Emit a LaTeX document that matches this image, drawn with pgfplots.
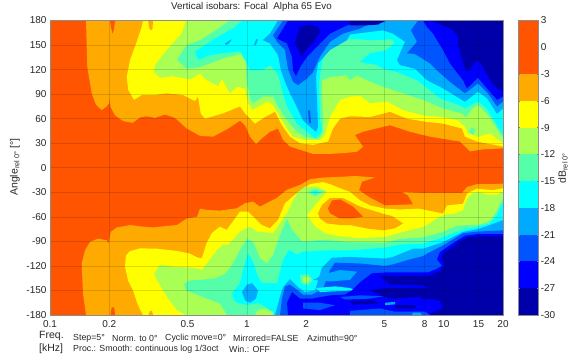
\documentclass[border=0pt]{standalone}
\usepackage{fontspec}
\usepackage{pgfplots}
\pgfplotsset{compat=1.18}
\setmainfont{Liberation Sans}
\definecolor{cR}{HTML}{FF5500}
\definecolor{cO}{HTML}{FFAA00}
\definecolor{cY}{HTML}{FFFF00}
\definecolor{cL}{HTML}{AAFF55}
\definecolor{cM}{HTML}{55FFAA}
\definecolor{cC}{HTML}{00FFFF}
\definecolor{cS}{HTML}{00AAFF}
\definecolor{cA}{HTML}{0055FF}
\definecolor{cB}{HTML}{0000FF}
\definecolor{cN}{HTML}{0000AA}
\definecolor{txt}{HTML}{262626}
\pgfplotsset{band/.style={fill=#1,draw=none,mark=none,forget plot}}
\begin{document}
\begin{tikzpicture}[x=1pt,y=1pt]
\path[use as bounding box] (0,0) rectangle (580,357);
% x coordinate: log-frequency scale, 196.9 units per decade, 0.1 kHz at 50, 20 kHz at 503
\begin{axis}[at={(50pt,42pt)},anchor=south west,scale only axis,width=453pt,height=294.5pt,
 xmin=50,xmax=503,ymin=-180,ymax=180,axis on top,
 xtick={50,109.3,187.6,246.9,306.2,384.5,424.7,443.8,478.5,503},
 xticklabels={0.1,0.2,0.5,1,2,5,8,10,15,20},
 ytick={-180,-150,-120,-90,-60,-30,0,30,60,90,120,150,180},
 yticklabels={-180,-150,-120,-90,-60,-30,0,30,60,90,120,150,180},
 ticklabel style={font=\fontsize{10}{11}\selectfont,text=txt},
 xticklabel style={yshift=-2pt},
 major tick length=0pt,grid=major,
 grid style={black,opacity=.14,line width=.6pt},
 axis line style={draw=black!45,line width=.5pt}]
% base level
\addplot[band=cR] coordinates {(50,-180)(503,-180)(503,180)(50,180)};
% -3 dB
\addplot[band=cO] coordinates {(86,180)(87.3,123)(91.7,91)(96,77)(101.7,70.5)(106.7,75)(109.3,79)(110,89)(110.3,75)(115,64)(123.3,57)(132.7,55)(140,61.5)(146.7,63)(155,61)(165,65)(175,61)(186.7,48)(200,39)(213,38)(227,47)(240,57.5)(245,52)(250,38)(256,29)(262,36)(270,44)(278,48)(283,34)(290,26)(300,22)(313,17)(330,17)(345,18)(357,19.6)(363,25.7)(355,40)(363,44)(383,50)(390,52)(410,44)(430,38)(460,32)(470,20)(483,22.5)(503,23.7)(503,180)};
\addplot[band=cO] coordinates {(86,-180)(83,-154)(81.7,-117)(85,-101)(90,-90.7)(98,-86.7)(106.7,-88.7)(108.7,-92.8)(110.7,-78.5)(116.7,-73)(130,-70)(140,-71.6)(153,-73)(163,-71.6)(177,-70)(186.7,-62)(197,-60)(200,-50)(206.7,-51.6)(220,-52.4)(236.7,-49.6)(245,-43.4)(253,-41.4)(260,-47.5)(276.7,-37)(286.7,-27)(300,-21)(310,-14)(323,-12)(343,-11)(355,-10)(375,-12)(362,-17)(359,-27.6)(370,-36.5)(385,-46)(413,-44.7)(408,-33.7)(402,-29.6)(423,-30.8)(443,-30.8)(462,-30.8)(467,-23.5)(477,-20)(493,-20)(503,-19.4)(503,-180)};
\addplot[band=cR] coordinates {(110,180)(111,172)(112.5,164)(114,170)(115,180)};
\addplot[band=cR] coordinates {(110.5,-180)(111.5,-172)(113,-170)(114.5,-173)(115,-180)};
% -6 dB
\addplot[band=cY] coordinates {(143,180)(141.7,172)(135,148)(130,131.5)(126.7,111)(128.3,95)(134,83)(141.7,89)(155,89)(166.7,91)(183,89)(195,81.5)(198,87)(200.7,66.5)(205,60)(223,66.5)(240,75)(245,66.5)(255,54)(265,62)(275,68.5)(282,52)(290,38)(300,30)(313,28)(328,32)(333,48)(340,60)(350,63)(370,62)(390,68.5)(407,60)(427,56)(443,54)(462,48)(465,38)(477,32)(503,26)(503,180)};
\addplot[band=cY] coordinates {(143,-180)(138,-168)(133,-150)(128,-137.6)(125,-121)(126,-107)(130,-102)(140,-98.5)(157,-99)(177,-101.7)(190,-105)(197,-109.5)(201.7,-110.7)(206.7,-92)(211.7,-80)(220,-72)(226.7,-76)(240,-53.6)(248,-53.6)(261.7,-70)(270,-74)(278,-63.8)(285,-43.4)(296.7,-31)(310,-20)(323,-17.5)(330,-20)(340,-25)(350,-29.6)(360,-39.8)(370,-46)(385,-50)(400,-51)(418,-50)(423,-51)(443,-56)(447,-46)(463,-44)(467,-31.6)(477,-25.5)(493,-27.5)(503,-25)(503,-180)};
\addplot[band=cO] coordinates {(148,180)(149.5,170)(151,168)(152.5,170)(153,180)};
\addplot[band=cO] coordinates {(148.5,-180)(150,-175)(152,-175)(153,-180)};
\addplot[band=cO] coordinates {(318,-55.7)(322,-45.5)(330,-37)(343,-37)(360,-47.5)(385,-57)(392,-59)(403,-68)(395,-74)(383,-76.5)(368,-74.4)(350,-70)(340,-70)(327,-68)(320,-62)};
\addplot[band=cR] coordinates {(328,-49.6)(332,-40)(340,-38.6)(353,-47.5)(360,-56)(363,-60)(350,-62)(340,-62)(330,-55.7)};
% -9 dB
\addplot[band=cL] coordinates {(186,180)(181.7,164)(166.7,144)(155,125.5)(154,117)(160,110)(173,112)(190,108)(200,115)(206.7,107)(213,103)(218,100)(222,109)(227,97)(230,91)(236.7,99)(245,97)(248,79)(253,70.5)(258,75)(268,81)(273,76.6)(280,62)(287,48)(293,38)(305,34)(320,34)(325,40)(330,62)(340,83)(350,87)(360,88)(370,79)(387,81)(403,70.5)(423,64)(443,62)(458,58)(465,50)(468,42)(478,38)(490,42)(503,30)(503,180)};
\addplot[band=cL] coordinates {(186,-180)(177,-174)(167,-158)(157,-137.6)(154,-129.4)(160,-118.7)(173,-121)(190,-122)(197,-123)(202,-125)(208,-115)(217,-100.5)(223,-94)(228,-94)(233,-88)(240,-78)(250,-72)(257,-78)(273,-80)(282,-64)(288,-53.6)(293,-39.4)(298,-30)(305,-23)(317,-23)(327,-29)(317,-43)(307,-57.7)(315,-72)(325,-80)(340,-84)(360,-86)(385,-84.6)(403,-78.5)(425,-71.6)(433,-65)(443,-58)(455,-56)(463,-52)(467,-38)(473,-31)(480,-30)(487,-33)(497,-33)(503,-29)(503,-180)};
% -12 dB
\addplot[band=cM] coordinates {(230,180)(213,166)(200,156)(186.7,150)(177,132)(186.7,121)(200,123)(210,127.5)(223,133.6)(236.7,137.7)(245,142)(246.7,105)(250.7,83)(253,79)(263,87)(273,87)(278,75)(287,58)(297,44)(305,38)(318,34.7)(323,44)(323,62)(322,95)(322,107)(330,111)(347,113)(350,107)(357,113)(363,109)(383,99)(403,91)(423,83)(443,72.5)(462,66.5)(466,62)(472,72)(478,77)(487,66)(497,48)(503,37)(503,180)};
\addplot[band=cM] coordinates {(227,-180)(220,-166)(207,-160)(195,-154)(186,-150)(184,-142)(190,-137.6)(200,-137)(215,-135)(225,-130)(232,-119)(240,-100.5)(247,-87)(253,-90)(260,-110.7)(267,-117)(273,-106.6)(280,-82)(287,-62)(292,-76)(302,-90)(323,-88)(350,-91)(385,-91.5)(400,-87)(423,-85)(443,-78.5)(457,-71)(470,-70)(478,-70)(490,-65)(497,-52)(503,-36)(503,-180)};
\addplot[band=cM] coordinates {(469,44)(472,50)(475,46)(473,40)};
\addplot[band=cM] coordinates {(307,-30)(315,-25.5)(325,-29)(315,-35)};
\addplot[band=cC] coordinates {(311,-30)(315,-28)(320,-30)(315,-32)};
% -15 dB
\addplot[band=cC] coordinates {(242,180)(235,172)(225,165)(215,158)(205,150)(195,142)(198,132)(210,137.7)(223,140)(240,142)(247,127.5)(250,119)(262,119)(270,125.5)(278,115)(282,95)(287,75)(297,54)(307,44)(315,36)(322,44)(320,62)(319,103)(322,130)(327,144)(340,154)(350,158)(370,156)(393,157)(394,152)(387,144)(370,140)(360,129.5)(377,125.5)(383,121)(397,117)(417,107)(440,85)(460,76)(465,73)(478,81)(487,72)(497,52)(503,40)(503,180)};
\addplot[band=cC] coordinates {(273,-180)(268,-172)(258,-165)(247,-168)(235,-163.7)(232,-153.5)(240,-141)(243,-125)(248,-104.6)(253,-115)(258,-133)(262,-141)(277,-141)(283,-113)(289,-100.5)(297,-106)(303,-102.5)(330,-101)(350,-101)(385,-97.6)(400,-94)(423,-93)(443,-85)(463,-76)(478,-72)(490,-68)(497,-58)(503,-42)(503,-180)};
\addplot[band=cL] coordinates {(255,-180)(258,-174)(265,-172)(273,-176)(273,-180)};
\addplot[band=cM] coordinates {(300,-131)(308,-130)(313,-137)(308,-144)(301,-141)};
\addplot[band=cL] coordinates {(303,-134)(308,-133)(310,-137)(307,-141)(303,-139)};
% -18 dB
\addplot[band=cS] coordinates {(278,180)(270,164)(262.7,156)(270,152)(278,137.7)(281,119)(285,105)(290,91)(295,79)(303,58)(312,48)(316,44)(318,50)(317,83)(316,111)(318,127.5)(330,144)(347,156)(350,163)(383,168)(393,164)(405,154)(397,131.5)(400,125.5)(415,121)(427,107)(443,97)(465,80.7)(478,93)(487,85)(497,66)(503,72.5)(503,180)};
\addplot[band=cS] coordinates {(275,-180)(280,-157.5)(283,-146)(290,-136)(298,-146)(305,-152)(315,-150)(322,-122)(332,-110)(350,-109)(385,-111)(393,-109)(413,-99)(423,-99)(443,-91)(463,-78.5)(478,-75)(490,-70)(503,-64)(503,-180)};
\addplot[band=cS] coordinates {(225,152)(230,156)(232,157)(229,152)(226,150)};
\addplot[band=cS] coordinates {(254,150)(256,157)(258,157)(256,150)};
\addplot[band=cS] coordinates {(242,-152)(247,-143)(252,-141)(258,-150)(256,-160)(250,-165)(245,-162)};
% -21 dB
\addplot[band=cA] coordinates {(283,180)(273,162)(277,154)(285,144)(288,121)(293,105)(298,101)(307,109)(313,117)(320,136)(330,154)(343,164)(360,170)(370,176)(383,178)(388,180)};
\addplot[band=cA] coordinates {(418,180)(411,168)(417,154)(407,140)(415,139)(430,127.5)(437,119)(450,105)(465,91)(478,103)(488,91)(497,75)(503,81)(503,180)};
\addplot[band=cA] coordinates {(308,70)(310,70)(311,55)(309,55)};
\addplot[band=cA] coordinates {(280,-180)(282,-159.6)(285,-145)(290,-143)(297,-149)(303,-155)(312,-155)(323,-148)(330,-125)(335,-116)(360,-117)(385,-120)(393,-118)(410,-112)(423,-108)(430,-103)(443,-95)(463,-80)(478,-78)(503,-76.5)(503,-180)};
\addplot[band=cS] coordinates {(313,-137)(325,-130)(340,-125)(357,-127)(350,-137)(330,-139)};
\addplot[band=cC] coordinates {(316,-147)(335,-145)(350,-147)(355,-150)(335,-151)(320,-152)};
% -24 dB
\addplot[band=cB] coordinates {(288,180)(277,158)(287,152)(292,135.6)(293,119)(296,112)(300,123)(307,135.6)(317,148)(330,164)(347,174)(360,178)(370,175.5)(383,178)(385,180)};
\addplot[band=cB] coordinates {(423,180)(427,172)(433,164)(443,144)(450,127.5)(463,107)(467,97)(478,110)(487,97)(497,83)(503,87)(503,180)};
\addplot[band=cB] coordinates {(288,-180)(287,-165)(292,-152)(300,-160)(312,-160)(330,-156)(345,-155)(352,-150)(360,-140)(372,-129)(385,-128)(410,-128)(428,-128)(436,-124)(442,-120)(437,-112)(440,-103)(452,-93)(465,-83)(478,-81)(503,-81)(503,-180)};
% -27 dB
\addplot[band=cN] coordinates {(300,172)(295,152)(302,135.6)(307,146)(315,156)(320,166)(318,172)(310,175)};
\addplot[band=cN] coordinates {(350,174)(365,174)(378,175)(385,180)(350,180)};
\addplot[band=cN] coordinates {(430,180)(443,174)(453,168)(458,160)(458,152)(463,127.5)(467,117)(477,131.5)(483,123.4)(490,107)(497,97)(503,93)(503,180)};
\addplot[band=cN] coordinates {(503,-180)(503,-84)(478,-84)(467,-85)(460,-90)(453,-97)(443,-105)(442,-112)(445,-119)(440,-126)(430,-132)(410,-132)(380,-132)(390,-143)(423,-143.7)(428,-147)(385,-147)(370,-150)(385,-158)(405,-163)(430,-160)(440,-163)(443,-172)(430,-178)(430,-180)};
% streaks at the bottom right
\addplot[band=cB] coordinates {(383,-161)(420,-158)(425,-163)(400,-166)(390,-166)};
\addplot[band=cN] coordinates {(350,-163)(375,-162)(378,-166)(352,-167)};
\addplot[band=cN] coordinates {(395,-168)(415,-168)(416,-172)(396,-172)};
\addplot[band=cA] coordinates {(340,-158)(360,-156)(383,-157)(370,-160)(345,-161)};
\addplot[band=cA] coordinates {(303,-165)(320,-165)(335,-168)(320,-174)(303,-172)};
\addplot[band=cA] coordinates {(350,-175)(380,-172)(395,-176)(410,-176)(425,-176)(430,-180)(350,-180)};
\addplot[band=cS] coordinates {(385,-165)(395,-164)(395,-167)(385,-168)};
\addplot[band=cS] coordinates {(413,-177)(420,-177)(422,-180)(412,-180)};
\end{axis}
% colour bar
\begin{axis}[at={(518pt,42pt)},anchor=south west,scale only axis,width=20.3pt,height=294.5pt,
 xmin=0,xmax=1,ymin=-30,ymax=3,axis on top,xtick=\empty,
 ytick={3,0,-3,-6,-9,-12,-15,-18,-21,-24,-27,-30},
 yticklabels={3,0,-3,-6,-9,-12,-15,-18,-21,-24,-27,-30},
 yticklabel pos=right,
 ticklabel style={font=\fontsize{10}{11}\selectfont,text=txt},
 yticklabel style={xshift=-1pt},
 tick align=inside,major tick length=1.5pt,tick style={black!50},
 axis line style={draw=black!45,line width=.5pt}]
\addplot[band=cR] coordinates {(0,-3)(1,-3)(1,3)(0,3)};
\addplot[band=cO] coordinates {(0,-6)(1,-6)(1,-3)(0,-3)};
\addplot[band=cY] coordinates {(0,-9)(1,-9)(1,-6)(0,-6)};
\addplot[band=cL] coordinates {(0,-12)(1,-12)(1,-9)(0,-9)};
\addplot[band=cM] coordinates {(0,-15)(1,-15)(1,-12)(0,-12)};
\addplot[band=cC] coordinates {(0,-18)(1,-18)(1,-15)(0,-15)};
\addplot[band=cS] coordinates {(0,-21)(1,-21)(1,-18)(0,-18)};
\addplot[band=cA] coordinates {(0,-24)(1,-24)(1,-21)(0,-21)};
\addplot[band=cB] coordinates {(0,-27)(1,-27)(1,-24)(0,-24)};
\addplot[band=cN] coordinates {(0,-30)(1,-30)(1,-27)(0,-27)};
\end{axis}
\begin{scope}[every node/.style={text=txt,inner sep=0pt,font=\fontsize{8.8}{9}\selectfont}]
\node[font=\fontsize{9.8}{10}\selectfont] at (251.5,350.5) {Vertical isobars: Focal\ \ Alpha 65 Evo};
\node[rotate=90,font=\fontsize{10.5}{11}\selectfont] at (15,190) {Angle\textsubscript{rel 0°} [°]};
\node[rotate=90,font=\fontsize{10.5}{11}\selectfont] at (563,189) {dB\textsubscript{rel 0°}};
\node[anchor=west,font=\fontsize{10.5}{11}\selectfont] at (39,21.5) {Freq.};
\node[anchor=west,font=\fontsize{10.5}{11}\selectfont] at (39,8) {[kHz]};
\node[anchor=west] at (73,19) {Step=5°};
\node[anchor=west] at (112,19) {Norm. to 0°};
\node[anchor=west] at (165,19) {Cyclic move=0°};
\node[anchor=west] at (233,19) {Mirrored=FALSE};
\node[anchor=west] at (307,19) {Azimuth=90°};
\node[anchor=west] at (73,8) {Proc.: Smooth: continuous log 1/3oct};
\node[anchor=west] at (229,8) {Win.: OFF};
\end{scope}
\end{tikzpicture}
\end{document}
